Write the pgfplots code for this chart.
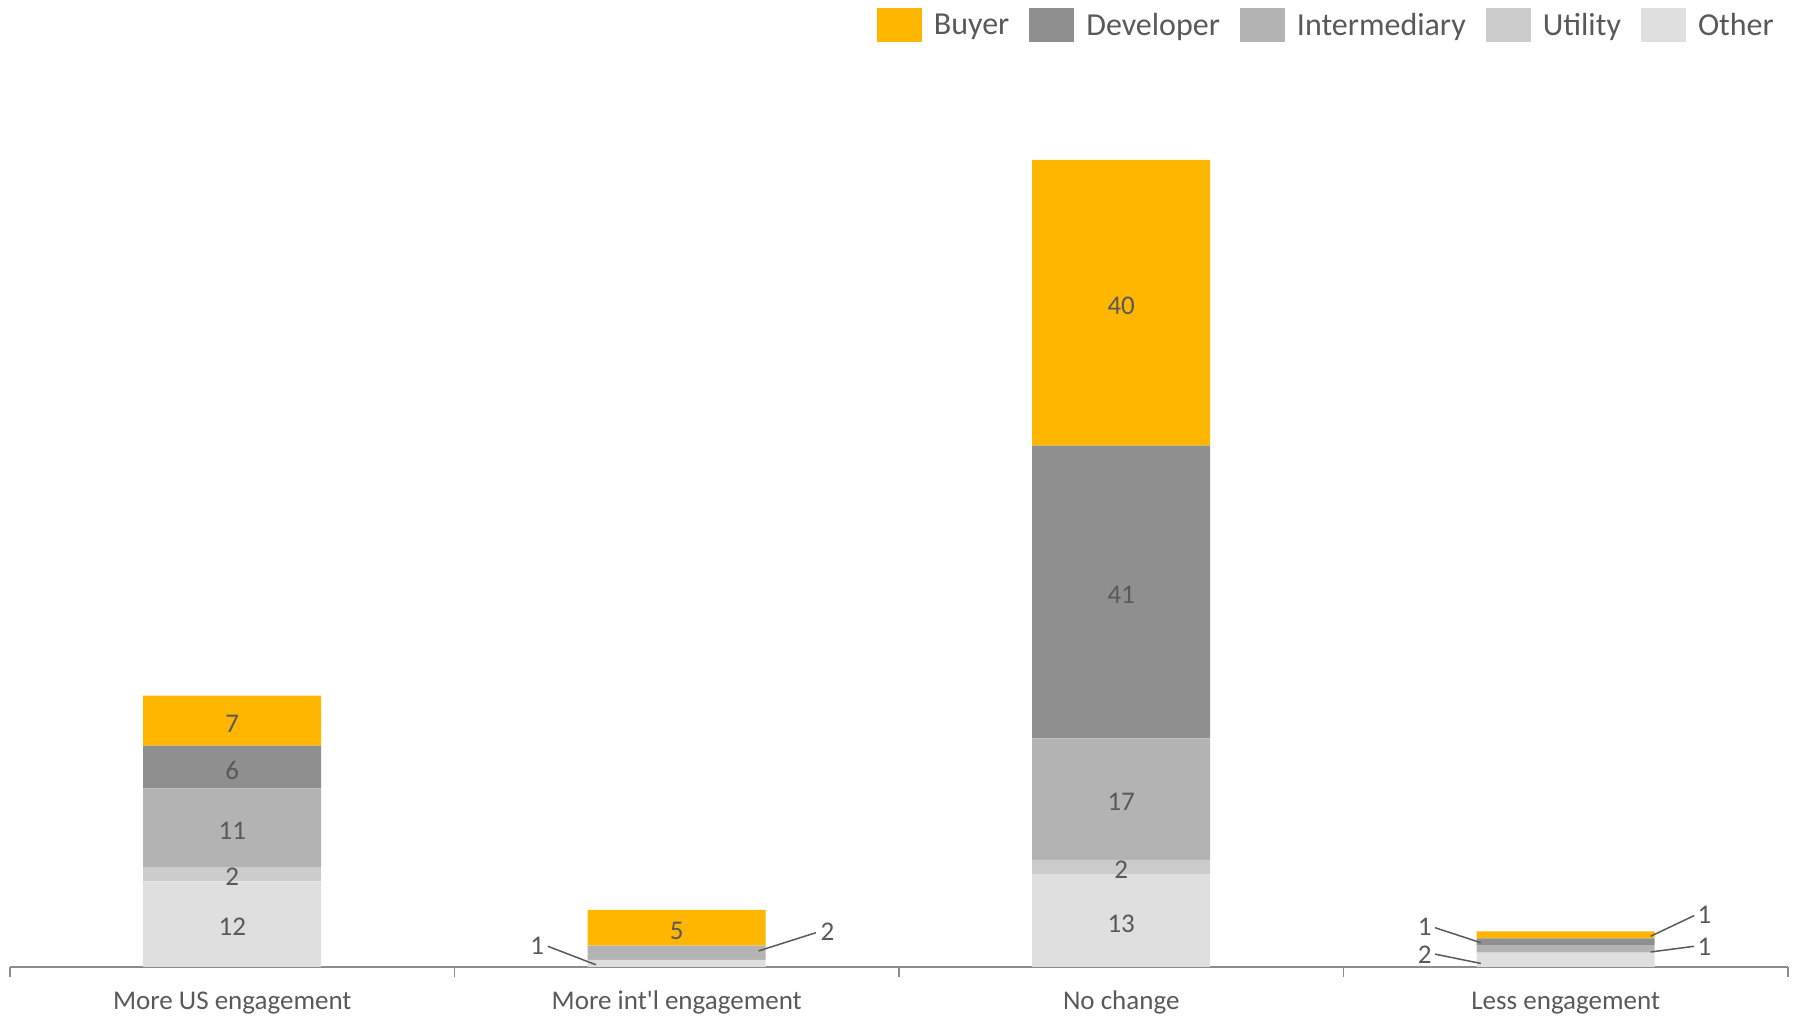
\documentclass[border=0pt]{standalone}
\usepackage{fontspec}
\setmainfont{Carlito}
\usepackage{pgfplots}
\pgfplotsset{compat=1.18}
\definecolor{buyer}{HTML}{FFB600}
\definecolor{dev}{HTML}{8F8F8F}
\definecolor{inter}{HTML}{B3B3B3}
\definecolor{util}{HTML}{CCCCCC}
\definecolor{other}{HTML}{DFDFDF}
\definecolor{txt}{HTML}{595959}
\definecolor{axisc}{HTML}{8C8C8C}

\pgfplotsset{common/.style={
  at={(10pt,49pt)}, anchor=south west, scale only axis, width=1778pt, height=892.7pt,
  xmin=-0.5, xmax=3.5, ymin=0, ymax=125, clip=false,
}}

\pgfplotstableread{
x other util inter dev buyer
0 12 2 11 6 7
1 1 0 2 0 5
2 13 2 17 41 40
3 2 0 1 1 1
}\datatab

\pgfplotstableread{
x y lab
0 6 12
0 13 2
0 19.5 11
0 28 6
0 34.5 7
1 5.5 5
2 6.5 13
2 14 2
2 23.5 17
2 52.5 41
2 93 40
}\labtab

\pgfplotstableread{
x y lab
0.686 3.05 1
1.339 5.1 2
2.683 5.8 1
2.683 1.9 2
3.312 7.5 1
3.312 2.9 1
}\extlab

\begin{document}
\begin{tikzpicture}
\path[use as bounding box] (0,0) rectangle (1797pt,1016pt);
\begin{axis}[common,
  ybar stacked, bar width=178pt,
  axis x line*=bottom, axis y line=none,
  axis line style={axisc, line width=1.5pt},
  xtick={0,1,2,3},
  xticklabels={More US engagement, More int\textquotesingle l engagement, No change, Less engagement},
  major tick length=0pt,
  minor xtick={-0.5,0.5,1.5,2.5,3.5},
  minor tick length=10pt,
  tick align=outside,
  minor tick style={axisc, line width=1.5pt},
  ytick=\empty,
  xticklabel style={font=\fontsize{27}{32}\selectfont, text=txt, text height=20pt, text depth=6pt, anchor=north, yshift=-19pt},
  legend columns=-1,
  legend image code/.code={\fill[#1] (0pt,-17pt) rectangle (45pt,17pt);},
  legend style={draw=none, fill=none, font=\fontsize{32}{38}\selectfont, text=txt,
    at={(axis description cs:0.9961,1.0556)}, anchor=east,
    /tikz/every even column/.append style={column sep=16pt},
    /tikz/every odd column/.append style={column sep=8pt},
    nodes={inner sep=4pt}},
]
\addlegendimage{fill=buyer, draw=none}
\addlegendentry{Buyer}
\addlegendimage{fill=dev, draw=none}
\addlegendentry{Developer}
\addlegendimage{fill=inter, draw=none}
\addlegendentry{Intermediary}
\addlegendimage{fill=util, draw=none}
\addlegendentry{Utility}
\addlegendimage{fill=other, draw=none}
\addlegendentry{Other}
\addplot[fill=other, draw=none, forget plot] table[x=x, y=other] {\datatab};
\addplot[fill=util, draw=none, forget plot] table[x=x, y=util] {\datatab};
\addplot[fill=inter, draw=none, forget plot] table[x=x, y=inter] {\datatab};
\addplot[fill=dev, draw=none, forget plot] table[x=x, y=dev] {\datatab};
\addplot[fill=buyer, draw=none, forget plot] table[x=x, y=buyer] {\datatab};
\end{axis}
\begin{axis}[common, hide axis]
\addplot[draw=none, mark=none, nodes near coords, point meta=explicit symbolic,
  every node near coord/.append style={anchor=center, yshift=-3pt, font=\fontsize{27}{32}\selectfont, text=txt}]
  table[x=x, y=y, meta=lab] {\labtab};
\addplot[draw=none, mark=none, nodes near coords, point meta=explicit symbolic,
  every node near coord/.append style={anchor=center, yshift=-1pt, font=\fontsize{27}{32}\selectfont, text=txt}]
  table[x=x, y=y, meta=lab] {\extlab};
\addplot[txt, line width=1.5pt, no marks] coordinates {(0.710,2.9) (0.818,0.32)};
\addplot[txt, line width=1.5pt, no marks] coordinates {(1.313,4.8) (1.184,2.25)};
\addplot[txt, line width=1.5pt, no marks] coordinates {(2.706,5.5) (2.809,3.4)};
\addplot[txt, line width=1.5pt, no marks] coordinates {(2.706,1.8) (2.809,0.5)};
\addplot[txt, line width=1.5pt, no marks] coordinates {(3.289,7.2) (3.191,4.3)};
\addplot[txt, line width=1.5pt, no marks] coordinates {(3.289,2.9) (3.191,2.1)};
\end{axis}
\end{tikzpicture}
\end{document}
